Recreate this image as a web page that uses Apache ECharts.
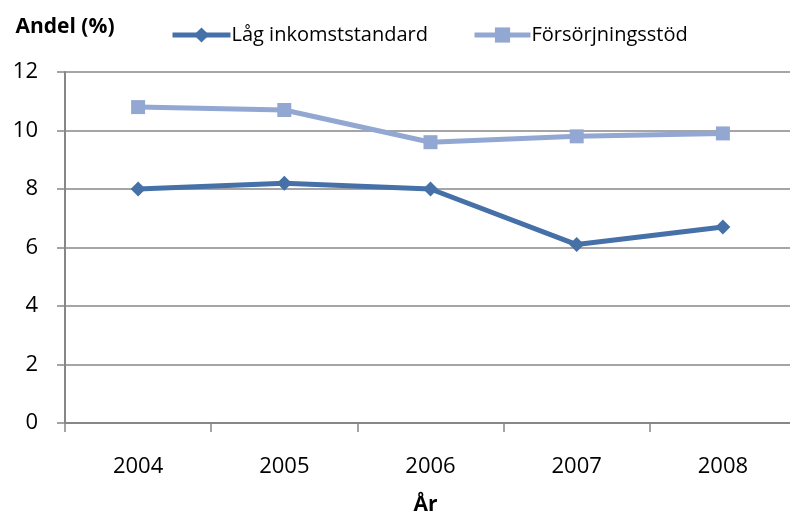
<!DOCTYPE html>
<html>
<head>
<meta charset="utf-8">
<script src="https://cdn.jsdelivr.net/npm/echarts@6/dist/echarts.min.js"></script>
<style>
  html, body { margin: 0; padding: 0; background: #fff; }
  #chart { width: 790px; height: 519px; }
</style>
</head>
<body>
<div id="chart"></div>
<script>
// data
var years = ['2004', '2005', '2006', '2007', '2008'];
var lagInkomst = [8.0, 8.2, 8.0, 6.1, 6.7];
var forsorjning = [10.8, 10.7, 9.6, 9.8, 9.9];
var yTicks = [0, 2, 4, 6, 8, 10, 12];

var chart = echarts.init(document.getElementById('chart'));
var font = 'Open Sans';
var gridGrey = '#878787';
var darkBlue = '#4570a8';
var lightBlue = '#92a8d2';

var option = {
    animation: false,
    backgroundColor: '#fff',
    textStyle: { fontFamily: font },
    legend: [
        {
            data: ['Låg inkomststandard'],
            left: 165, top: 20,
            itemWidth: 58, itemHeight: 19, itemGap: 0,
            lineStyle: { width: 5 },
            textStyle: { fontFamily: font, fontSize: 20, color: '#000', padding: [0, 0, 0, -4] }
        },
        {
            data: ['Försörjningsstöd'],
            left: 467, top: 20,
            itemWidth: 56, itemHeight: 19, itemGap: 0,
            lineStyle: { width: 5 },
            textStyle: { fontFamily: font, fontSize: 20, color: '#000', padding: [0, 0, 0, -4] }
        }
    ],
    grid: { left: 65, width: 731, top: 72, height: 351, outerBoundsMode: 'none', containLabel: false },
    xAxis: {
        type: 'category',
        data: years,
        boundaryGap: true,
        name: 'År',
        nameLocation: 'middle',
        nameGap: 72,
        nameTextStyle: { fontFamily: font, fontSize: 21, fontWeight: 'bold', color: '#000', padding: [0, 10, 0, 0] },
        axisLine: { lineStyle: { color: gridGrey, width: 2 } },
        axisTick: { show: true, length: 9, lineStyle: { color: gridGrey, width: 1.5 } },
        axisLabel: { margin: 33, fontFamily: font, fontSize: 22, color: '#000' }
    },
    yAxis: {
        type: 'value',
        min: yTicks[0],
        max: yTicks[yTicks.length - 1],
        interval: 2,
        name: 'Andel (%)',
        nameLocation: 'end',
        nameGap: 34,
        nameTextStyle: { fontFamily: font, fontSize: 21, fontWeight: 'bold', color: '#000', align: 'center' },
        axisLine: { show: true, lineStyle: { color: gridGrey, width: 2 } },
        axisTick: { show: true, length: 8, lineStyle: { color: gridGrey, width: 1.5 } },
        axisLabel: { margin: 27, fontFamily: font, fontSize: 22, color: '#000' },
        splitLine: { show: true, lineStyle: { color: gridGrey, width: 1.5 } }
    },
    series: [
        {
            name: 'Låg inkomststandard',
            type: 'line',
            data: lagInkomst,
            symbol: 'diamond',
            symbolSize: 15,
            lineStyle: { color: darkBlue, width: 5 },
            itemStyle: { color: darkBlue },
            z: 3
        },
        {
            name: 'Försörjningsstöd',
            type: 'line',
            data: forsorjning,
            symbol: 'rect',
            symbolSize: 14,
            lineStyle: { color: lightBlue, width: 5 },
            itemStyle: { color: lightBlue },
            z: 2
        }
    ]
};

chart.setOption(option);
</script>
</body>
</html>
